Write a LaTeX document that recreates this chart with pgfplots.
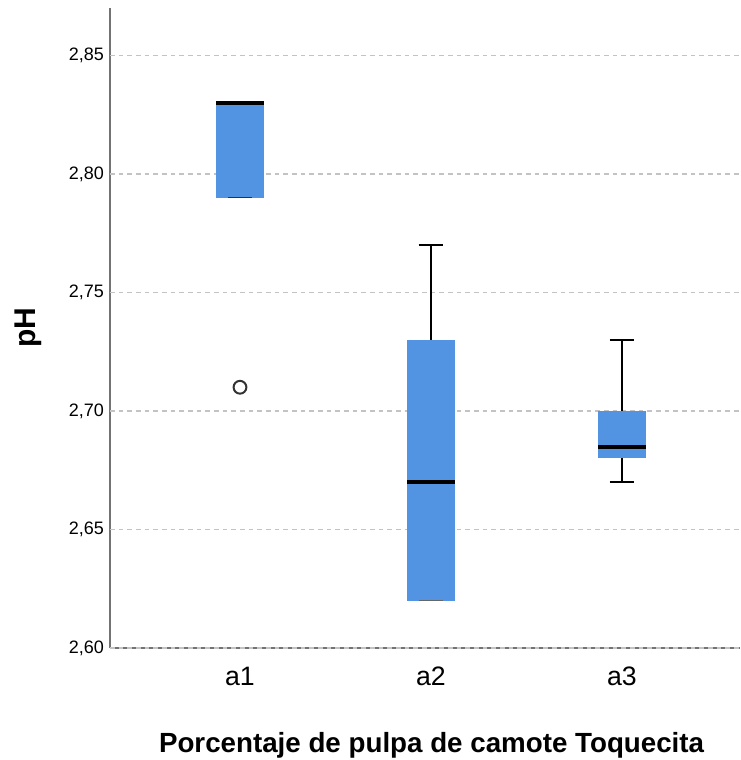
\documentclass[border=0pt]{standalone}
\usepackage{fontspec}
\setmainfont{Liberation Sans}
\usepackage{pgfplots}
\pgfplotsset{compat=1.18}
\definecolor{boxblue}{RGB}{83,148,226}
\definecolor{gridgray}{RGB}{195,195,195}
\definecolor{axisgray}{RGB}{115,115,115}
\begin{document}
\begin{tikzpicture}
\begin{axis}[
  scale only axis,
  width=472.5pt, height=480pt,
  at={(0,0)}, anchor=south west,
  xmin=0.3194, xmax=3.618,
  ymin=2.60, ymax=2.87,
  axis x line*=bottom, axis y line*=left,
  axis line style={axisgray, line width=1.4pt, -},
  xtick={1,2,3}, xticklabels={a1,a2,a3},
  ytick={2.60,2.65,2.70,2.75,2.80,2.85},
  major tick length=0pt,
  /pgf/number format/assume math mode=true,
  yticklabel={\pgfmathprintnumber[fixed,fixed zerofill,precision=2,use comma]{\tick}},
  yticklabel style={font=\fontsize{13.5}{16}\selectfont, xshift=-1pt},
  xticklabel style={font=\fontsize{20}{22}\selectfont, yshift=-11pt},
  ylabel={\textbf{pH}},
  ylabel style={font=\fontsize{22.5}{24}\selectfont, at={(axis description cs:0,0.5)}, anchor=south, yshift=48pt},
  xlabel={\textbf{Porcentaje de pulpa de camote Toquecita}},
  xlabel style={font=\fontsize{20.8}{23}\selectfont, yshift=-28pt, xshift=5pt},
  clip=false,
]
% dashed reference lines at the y ticks, drawn first so the boxes cover them
\pgfplotsinvokeforeach{2.60,2.65,2.70,2.75,2.80,2.85}{
  \addplot[gridgray, line width=1.1pt, dash pattern=on 3.5pt off 3pt, forget plot]
    coordinates {(0.3194,#1) (3.618,#1)};
}
% ---- a1: Q1 = 2.79, median = Q3 = 2.83, whiskers 2.79 / 2.83, outlier 2.71
\addplot[fill=boxblue, draw=none] coordinates {(0.8745,2.79) (1.1255,2.79) (1.1255,2.83) (0.8745,2.83)} -- cycle;
\addplot[black!80, line width=1pt] coordinates {(0.935,2.79) (1.065,2.79)};
\addplot[black, line width=3pt] coordinates {(0.8745,2.83) (1.1255,2.83)};
\addplot[only marks, mark=o, mark size=4.8pt, mark options={black!80, line width=1.5pt}] coordinates {(1,2.71)};
% ---- a2: Q1 = 2.62, median 2.67, Q3 = 2.73, whiskers 2.62 / 2.77
\addplot[fill=boxblue, draw=none] coordinates {(1.8745,2.62) (2.1255,2.62) (2.1255,2.73) (1.8745,2.73)} -- cycle;
\addplot[black, line width=1.5pt] coordinates {(2,2.73) (2,2.77)};
\addplot[black, line width=2pt] coordinates {(1.935,2.77) (2.065,2.77)};
\addplot[black!60, line width=1pt] coordinates {(1.935,2.62) (2.065,2.62)};
\addplot[black, line width=3pt] coordinates {(1.8745,2.67) (2.1255,2.67)};
% ---- a3: Q1 = 2.68, median 2.685, Q3 = 2.70, whiskers 2.67 / 2.73
\addplot[fill=boxblue, draw=none] coordinates {(2.8745,2.68) (3.1255,2.68) (3.1255,2.70) (2.8745,2.70)} -- cycle;
\addplot[black, line width=1.5pt] coordinates {(3,2.70) (3,2.73)};
\addplot[black, line width=2pt] coordinates {(2.935,2.73) (3.065,2.73)};
\addplot[black, line width=1.5pt] coordinates {(3,2.67) (3,2.68)};
\addplot[black, line width=2pt] coordinates {(2.935,2.67) (3.065,2.67)};
\addplot[black, line width=3pt] coordinates {(2.8745,2.685) (3.1255,2.685)};
\end{axis}
% fixed page frame around the axis and its labels
\pgfresetboundingbox
\path[use as bounding box] (-82.5pt,-84pt) rectangle (472.5pt,486pt);
\end{tikzpicture}
\end{document}
